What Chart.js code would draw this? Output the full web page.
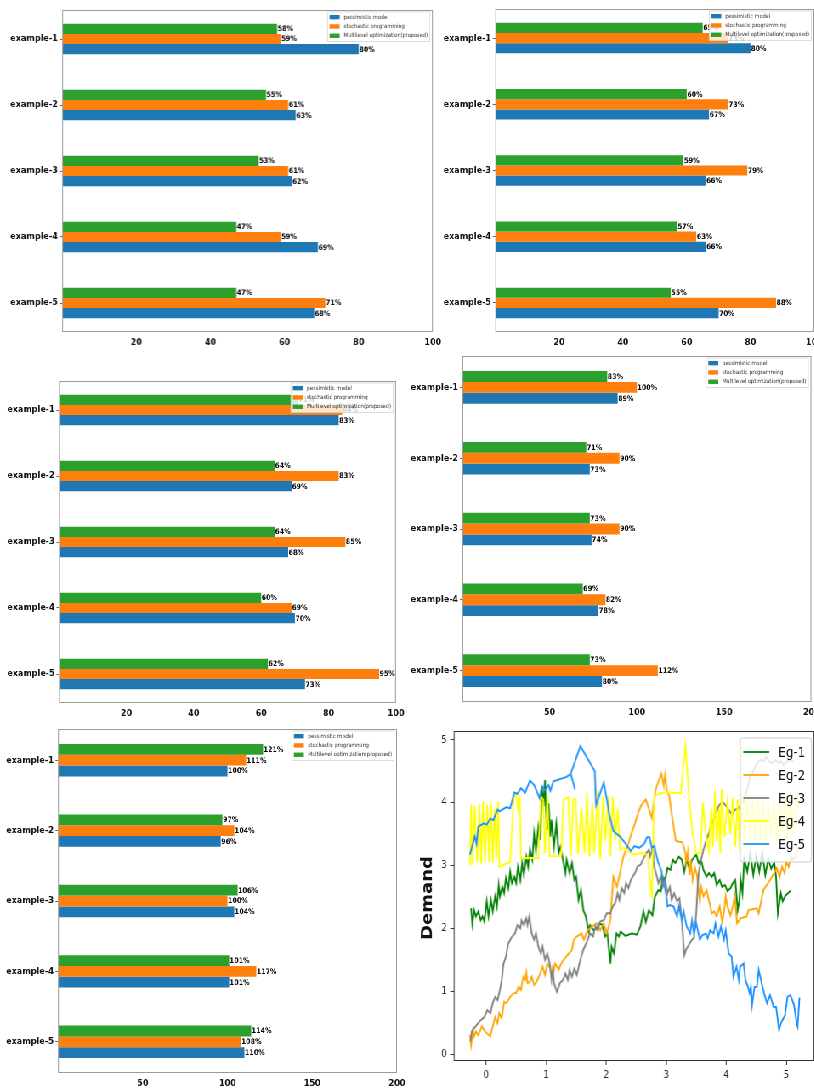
<!DOCTYPE html>
<html>
<head>
<meta charset="utf-8">
<title>Model comparison and demand</title>
<script src="https://cdn.jsdelivr.net/npm/chart.js@4.4.1/dist/chart.umd.min.js"></script>
<style>
html,body{margin:0;padding:0;background:#fff;overflow:hidden;}
#fig{position:absolute;left:0;top:0;width:1000px;height:1088px;transform-origin:0 0;}
.panel{position:absolute;}
</style>
</head>
<body>
<div id="fig">
  <div class="panel" id="p-bar1"><canvas id="bar1"></canvas></div>
  <div class="panel" id="p-bar2"><canvas id="bar2"></canvas></div>
  <div class="panel" id="p-bar3"><canvas id="bar3"></canvas></div>
  <div class="panel" id="p-bar4"><canvas id="bar4"></canvas></div>
  <div class="panel" id="p-bar5"><canvas id="bar5"></canvas></div>
  <div class="panel" id="p-demand"><canvas id="demand"></canvas></div>
</div>
<script>
// ---- data ----
const examples = ['example-1', 'example-2', 'example-3', 'example-4', 'example-5'];
const seriesNames = ['pessimistic model', 'stochastic programming', 'Multilevel optimization(proposed)'];

const pessimistic1 = [80, 63, 62, 69, 68];
const stochastic1  = [59, 61, 61, 59, 71];
const multilevel1  = [58, 55, 53, 47, 47];

const pessimistic2 = [80, 67, 66, 66, 70];
const stochastic2  = [73, 73, 79, 63, 88];
const multilevel2  = [65, 60, 59, 57, 55];

const pessimistic3 = [83, 69, 68, 70, 73];
const stochastic3  = [84, 83, 85, 69, 95];
const multilevel3  = [71, 64, 64, 60, 62];

const pessimistic4 = [89, 73, 74, 78, 80];
const stochastic4  = [100, 90, 90, 82, 112];
const multilevel4  = [83, 71, 73, 69, 73];

const pessimistic5 = [100, 96, 104, 101, 110];
const stochastic5  = [111, 104, 100, 117, 108];
const multilevel5  = [121, 97, 106, 101, 114];

const egNames = ['Eg-1', 'Eg-2', 'Eg-3', 'Eg-4', 'Eg-5'];

const eg1 = [[-0.25,2.32],[-0.23,2.07],[-0.2,2.29],[-0.17,2.19],[-0.13,2.27],[-0.09,2.13],[-0.06,2.19],[-0.03,2.11],[0.01,2.43],[0.04,2.19],[0.08,2.45],[0.11,2.27],[0.15,2.51],[0.18,2.35],[0.21,2.69],[0.23,2.51],[0.27,2.66],[0.3,2.56],[0.33,2.8],[0.37,2.64],[0.4,2.9],[0.43,2.72],[0.47,2.82],[0.5,2.72],[0.53,2.98],[0.57,2.77],[0.6,3.04],[0.63,2.85],[0.67,3.14],[0.7,2.98],[0.73,3.25],[0.77,3.09],[0.8,3.51],[0.83,3.25],[0.87,3.62],[0.9,3.41],[0.93,4.26],[0.96,3.94],[0.98,4.36],[1.01,3.57],[1.04,3.99],[1.07,3.46],[1.09,3.73],[1.13,3.3],[1.17,3.67],[1.21,3.2],[1.24,3.3],[1.28,3.09],[1.32,2.88],[1.34,3.09],[1.39,2.88],[1.43,3.04],[1.47,2.77],[1.5,2.82],[1.54,2.45],[1.58,2.61],[1.62,2.29],[1.66,2.19],[1.71,1.95],[1.73,2.05],[1.79,1.97],[1.84,2.0],[1.89,2.08],[1.94,2.05],[1.98,1.87],[2.02,1.92],[2.07,1.44],[2.09,1.71],[2.13,1.6],[2.17,1.92],[2.21,1.87],[2.24,1.95],[2.32,1.88],[2.43,1.92],[2.51,1.9],[2.57,2.03],[2.62,2.27],[2.66,2.1],[2.71,2.29],[2.77,2.21],[2.81,2.5],[2.87,2.61],[2.91,2.59],[2.94,2.82],[2.98,2.77],[3.02,2.96],[3.07,2.93],[3.11,3.09],[3.15,3.04],[3.21,3.14],[3.26,3.09],[3.3,2.9],[3.34,3.09],[3.39,2.93],[3.43,3.09],[3.47,3.14],[3.5,3.17],[3.54,3.04],[3.58,3.09],[3.62,2.93],[3.67,2.82],[3.71,2.88],[3.76,2.82],[3.8,2.88],[3.84,2.69],[3.89,2.77],[3.93,2.66],[3.98,2.69],[4.02,2.59],[4.07,2.64],[4.11,2.72],[4.15,2.77],[4.19,2.29],[4.22,2.45],[4.24,2.77],[4.27,2.56],[4.3,3.1],[4.35,2.9],[4.4,3.2],[4.45,2.85],[4.5,3.15],[4.55,2.9],[4.6,3.2],[4.65,2.85],[4.7,3.1],[4.75,2.95],[4.8,3.05],[4.83,2.82],[4.86,2.24],[4.91,2.56],[4.94,2.43],[4.98,2.51],[5.07,2.6]];

const eg2 = [[-0.27,0.3],[-0.25,0.14],[-0.22,0.38],[-0.2,0.28],[-0.17,0.36],[-0.13,0.3],[-0.07,0.44],[-0.02,0.36],[0.07,0.28],[0.11,0.44],[0.15,0.59],[0.19,0.49],[0.22,0.65],[0.26,0.57],[0.3,0.83],[0.34,0.81],[0.4,0.91],[0.46,0.97],[0.5,0.97],[0.54,1.07],[0.58,1.02],[0.62,1.23],[0.65,1.18],[0.67,1.3],[0.69,1.13],[0.73,1.15],[0.76,1.23],[0.8,1.1],[0.84,1.15],[0.9,1.28],[0.94,1.39],[0.98,1.26],[1.02,1.44],[1.07,1.36],[1.11,1.23],[1.15,1.44],[1.21,1.34],[1.24,1.42],[1.29,1.5],[1.36,1.58],[1.43,1.66],[1.46,1.82],[1.51,1.87],[1.59,1.92],[1.63,1.82],[1.69,1.97],[1.76,2.03],[1.84,2.08],[1.9,1.97],[1.96,2.08],[2.01,1.92],[2.07,2.13],[2.12,2.82],[2.18,2.66],[2.23,2.88],[2.28,3.12],[2.32,3.22],[2.37,3.35],[2.43,3.54],[2.48,3.67],[2.54,3.86],[2.59,3.97],[2.66,4.05],[2.76,3.76],[2.82,4.19],[2.87,4.34],[2.92,4.46],[2.96,4.27],[2.98,4.44],[3.01,4.2],[3.05,4.1],[3.1,3.76],[3.16,3.39],[3.27,3.37],[3.32,3.2],[3.33,3.04],[3.36,3.22],[3.39,2.85],[3.41,3.09],[3.44,2.77],[3.48,2.96],[3.51,2.85],[3.56,2.43],[3.58,2.66],[3.62,2.51],[3.67,2.61],[3.71,2.45],[3.76,2.24],[3.8,2.27],[3.84,2.19],[3.89,2.35],[3.93,2.11],[3.96,2.24],[3.99,2.51],[4.02,2.35],[4.07,2.21],[4.11,2.35],[4.14,2.51],[4.18,2.08],[4.24,2.16],[4.34,2.19],[4.37,2.29],[4.51,2.32],[4.54,2.24],[4.62,2.61],[4.73,2.77],[4.8,2.88],[4.84,2.96],[4.89,2.82],[4.93,2.98],[4.97,2.88],[5.0,3.06],[5.04,2.98],[5.08,3.14],[5.12,3.09],[5.17,3.22],[5.21,3.3]];

const eg3 = [[-0.26,0.2],[-0.24,0.36],[-0.2,0.41],[-0.16,0.46],[-0.09,0.54],[-0.03,0.59],[0.02,0.7],[0.07,0.65],[0.11,0.81],[0.15,0.91],[0.19,0.86],[0.23,1.02],[0.26,1.18],[0.29,1.44],[0.33,1.55],[0.37,1.76],[0.43,1.87],[0.48,1.92],[0.52,2.05],[0.57,2.0],[0.59,2.13],[0.63,2.05],[0.67,2.16],[0.69,2.05],[0.72,2.19],[0.76,1.92],[0.8,1.82],[0.83,1.92],[0.87,1.71],[0.91,1.6],[0.94,1.71],[0.98,1.5],[1.02,1.6],[1.06,1.44],[1.09,1.18],[1.11,1.34],[1.13,1.13],[1.18,0.99],[1.23,1.13],[1.28,1.18],[1.32,1.28],[1.36,1.18],[1.39,1.34],[1.43,1.23],[1.47,1.36],[1.51,1.26],[1.57,1.5],[1.62,1.66],[1.68,1.79],[1.73,1.92],[1.78,1.87],[1.82,2.03],[1.86,1.97],[1.9,2.11],[1.96,2.13],[2.01,2.24],[2.07,2.24],[2.11,2.35],[2.15,2.4],[2.19,2.56],[2.22,2.45],[2.26,2.64],[2.3,2.56],[2.33,2.72],[2.37,2.64],[2.41,2.77],[2.44,2.82],[2.48,2.88],[2.52,2.98],[2.57,3.01],[2.61,3.09],[2.67,3.2],[2.71,3.25],[2.73,3.14],[2.78,3.3],[2.8,2.98],[2.83,2.88],[2.87,2.72],[2.91,2.82],[2.94,2.66],[2.98,2.77],[3.02,2.56],[3.06,2.66],[3.09,2.45],[3.13,2.56],[3.18,2.43],[3.22,2.48],[3.26,2.13],[3.3,1.57],[3.33,1.66],[3.39,1.76],[3.43,1.82],[3.46,1.84],[3.5,2.24],[3.52,2.61],[3.54,2.88],[3.58,3.09],[3.62,3.25],[3.67,3.41],[3.71,3.51],[3.74,3.62],[3.79,3.73],[3.83,3.83],[3.87,3.94],[3.93,4.02],[3.98,3.97],[4.04,3.89],[4.09,3.81],[4.15,3.89],[4.21,3.91],[4.29,4.02],[4.34,4.18],[4.4,4.42],[4.46,4.52],[4.51,4.63],[4.57,4.68],[4.62,4.66],[4.67,4.73],[4.71,4.66],[4.76,4.63],[4.82,4.68],[4.87,4.63],[4.91,4.66],[4.96,4.6],[5.02,4.66],[5.12,4.66]];

const eg4 = [[-0.27,3.0],[-0.25,3.97],[-0.23,3.02],[-0.19,3.95],[-0.15,3.05],[-0.11,3.98],[-0.08,3.03],[-0.05,4.02],[-0.02,3.05],[0.02,3.97],[0.05,3.06],[0.08,4.0],[0.11,3.04],[0.14,3.9],[0.17,3.1],[0.2,4.02],[0.22,2.98],[0.4,3.06],[0.46,4.1],[0.5,4.12],[0.53,3.9],[0.56,4.12],[0.58,3.12],[0.87,3.12],[0.91,4.1],[0.95,4.05],[0.98,3.2],[1.02,4.1],[1.06,3.15],[1.25,3.15],[1.29,4.05],[1.37,4.08],[1.41,3.15],[1.45,4.05],[1.49,4.06],[1.53,3.18],[1.59,3.9],[1.64,3.2],[1.68,4.16],[1.72,3.15],[1.77,4.0],[1.8,3.2],[1.86,4.21],[1.9,3.1],[1.95,4.1],[1.99,3.4],[2.04,4.1],[2.07,3.15],[2.11,4.1],[2.15,3.4],[2.19,3.9],[2.23,3.25],[2.29,3.28],[2.44,3.18],[2.63,3.2],[2.69,3.15],[2.76,2.48],[2.8,4.1],[2.9,4.15],[3.0,4.17],[3.24,4.15],[3.32,4.9],[3.38,4.1],[3.44,3.5],[3.5,3.2],[3.57,3.2],[3.61,4.0],[3.66,3.5],[3.71,3.22],[3.75,3.92],[3.78,3.3],[3.81,4.19],[3.84,3.39],[3.88,3.9],[3.9,3.2],[3.92,4.21],[3.97,3.45],[4.02,4.03],[4.07,3.5],[4.11,4.08],[4.15,3.3],[4.19,4.05],[4.23,3.2],[4.26,4.12],[4.3,3.3],[4.35,4.0],[4.4,3.4],[4.44,4.1],[4.48,3.35],[4.53,4.05],[4.57,3.4],[4.62,4.1],[4.66,3.3],[4.7,4.0],[4.75,3.45],[4.8,4.1],[4.84,3.35],[4.89,4.05],[4.93,3.5],[4.98,4.1],[5.02,3.4],[5.07,4.12],[5.12,3.5],[5.17,4.15],[5.2,3.9]];

const eg5 = [[-0.27,3.17],[-0.19,3.46],[-0.16,3.35],[-0.13,3.62],[-0.04,3.67],[0.01,3.65],[0.07,3.75],[0.12,3.72],[0.19,3.89],[0.22,3.86],[0.34,3.93],[0.4,3.91],[0.47,4.16],[0.52,4.14],[0.58,4.23],[0.65,4.16],[0.73,4.35],[0.8,4.28],[0.89,4.07],[0.93,4.26],[0.98,4.2],[1.04,4.28],[1.07,4.19],[1.12,4.34],[1.34,4.41],[1.41,4.46],[1.48,4.21],[1.41,4.46],[1.57,4.9],[1.81,4.5],[1.83,3.96],[1.96,4.32],[2.02,4.0],[2.05,3.82],[2.12,3.55],[2.24,3.45],[2.36,3.3],[2.41,3.23],[2.47,3.31],[2.55,3.28],[2.63,3.34],[2.68,3.45],[2.72,3.45],[2.76,3.28],[2.8,3.31],[2.86,3.07],[2.92,2.91],[3.0,2.54],[3.02,2.35],[3.06,2.37],[3.12,2.35],[3.18,2.19],[3.21,2.35],[3.26,2.13],[3.29,2.27],[3.34,2.03],[3.4,1.92],[3.43,2.13],[3.46,1.92],[3.5,2.08],[3.56,1.82],[3.6,1.89],[3.66,1.92],[3.69,1.84],[3.73,1.97],[3.79,1.92],[3.82,2.08],[3.87,1.87],[3.91,2.03],[3.96,1.82],[3.99,1.97],[4.04,1.6],[4.09,1.55],[4.12,1.23],[4.17,1.39],[4.21,1.18],[4.23,1.39],[4.29,1.44],[4.32,1.18],[4.36,1.07],[4.39,0.97],[4.41,1.07],[4.43,0.78],[4.47,1.07],[4.51,1.07],[4.54,1.34],[4.59,1.13],[4.63,0.97],[4.68,0.81],[4.73,0.94],[4.79,0.75],[4.83,0.75],[4.88,0.38],[4.91,0.49],[4.98,0.62],[5.02,0.91],[5.07,0.94],[5.13,0.78],[5.17,0.51],[5.19,0.44],[5.22,0.9]];

// ---- look ----
const K = 0.85;   // the whole figure is drawn narrower than tall
const FONT = 'DejaVu Sans';
const seriesColors = ['#1f77b4', '#ff7f0e', '#2ca02c'];
const egColors = ['#008000', '#ffa500', '#808080', '#ffff00', '#1e90ff'];
const BAR_INSET = 4;  // category band runs a little past the drawn frame, top and bottom

Chart.defaults.font.family = FONT;
document.getElementById('fig').style.transform = 'scaleX(' + K + ')';

// box = canvas [left, top, width, height], axes = plot frame [left, top, right, bottom], both in page px
const barPanels = [
  { id: 'bar1', box: [0, 0, 445, 352],     axes: [62, 10, 432, 332],   max: 100, step: 20, values: [pessimistic1, stochastic1, multilevel1] },
  { id: 'bar2', box: [440, 0, 400, 352],   axes: [495, 9, 814, 332],   max: 100, step: 20, values: [pessimistic2, stochastic2, multilevel2] },
  { id: 'bar3', box: [0, 368, 410, 354],   axes: [59, 381, 396, 703],  max: 100, step: 20, values: [pessimistic3, stochastic3, multilevel3] },
  { id: 'bar4', box: [400, 350, 430, 370], axes: [462, 356, 811, 702], max: 200, step: 50, values: [pessimistic4, stochastic4, multilevel4] },
  { id: 'bar5', box: [0, 720, 410, 368],   axes: [58, 729, 397, 1073], max: 200, step: 50, values: [pessimistic5, stochastic5, multilevel5] }
];

function place(id, box) {
  const el = document.getElementById(id).parentNode;
  el.style.left = box[0] / K + 'px';
  el.style.top = box[1] + 'px';
  el.style.width = box[2] / K + 'px';
  el.style.height = box[3] + 'px';
}

// fixed axis sizes so the plot frame lands where it should
function fitX(h) { return s => { s.height = h; s.paddingLeft = 0; s.paddingRight = 0; }; }
function fitY(w) { return s => { s.width = w; s.paddingTop = 0; s.paddingBottom = 0; }; }

function frame(color, inset) {
  return {
    id: 'frame',
    afterDatasetsDraw(chart) {
      const { ctx, chartArea: a } = chart;
      ctx.save();
      ctx.strokeStyle = color;
      ctx.lineWidth = 1;
      ctx.strokeRect(a.left + 0.5, a.top + inset + 0.5, a.right - a.left - 1, a.bottom - a.top - 2 * inset - 1);
      ctx.restore();
    }
  };
}

const valueLabels = {
  id: 'valueLabels',
  afterDatasetsDraw(chart) {
    const { ctx } = chart;
    ctx.save();
    ctx.font = 'bold 7.6px "' + FONT + '"';
    ctx.fillStyle = '#000';
    ctx.textAlign = 'left';
    ctx.textBaseline = 'middle';
    chart.data.datasets.forEach((ds, i) => {
      chart.getDatasetMeta(i).data.forEach((bar, j) => {
        ctx.fillText(ds.data[j] + '%', bar.x + 0.5, bar.y + 0.5);
      });
    });
    ctx.restore();
  }
};

// small framed legend in the upper right corner of each bar plot
const barLegend = {
  id: 'barLegend',
  afterDraw(chart) {
    const { ctx, chartArea: a } = chart;
    ctx.save();
    ctx.font = '5.9px "' + FONT + '"';
    const tw = Math.max(...seriesNames.map(n => ctx.measureText(n).width));
    const pad = 2 / K, patchW = 10 / K, gap = 4 / K, rowH = 9.3;
    const w = pad + patchW + gap + tw + pad, h = rowH * 3 + 1.5;
    const x0 = a.right - 3 / K - w, y0 = a.top + BAR_INSET + 2;
    ctx.fillStyle = 'rgba(255,255,255,0.8)';
    ctx.fillRect(x0, y0, w, h);
    ctx.strokeStyle = '#d4d4d4';
    ctx.lineWidth = 0.8;
    ctx.strokeRect(x0, y0, w, h);
    ctx.textBaseline = 'middle';
    seriesNames.forEach((n, i) => {
      const yc = y0 + 0.5 + rowH * (i + 0.5);
      ctx.fillStyle = seriesColors[i];
      ctx.fillRect(x0 + pad, yc - 2.2, patchW, 4.4);
      ctx.fillStyle = '#333';
      ctx.fillText(n, x0 + pad + patchW + gap, yc);
    });
    ctx.restore();
  }
};

function barChart(p) {
  const [cx, cy, cw, ch] = p.box, [l, t, r, b] = p.axes;
  place(p.id, p.box);
  const tickFont = { family: FONT, size: 9.5, weight: 'bold' };
  new Chart(document.getElementById(p.id), {
    type: 'bar',
    data: {
      labels: examples,
      // green on top of each group, blue at the bottom
      datasets: [2, 1, 0].map(i => ({
        label: seriesNames[i],
        data: p.values[i],
        backgroundColor: seriesColors[i],
        categoryPercentage: 0.46,
        barPercentage: 1
      }))
    },
    options: {
      indexAxis: 'y',
      animation: false,
      responsive: true,
      maintainAspectRatio: false,
      layout: { padding: { left: 0, top: t - cy - BAR_INSET, right: (cx + cw - r) / K, bottom: 0 } },
      plugins: { legend: { display: false }, tooltip: { enabled: false } },
      scales: {
        x: {
          min: 0, max: p.max,
          ticks: { stepSize: p.step, color: '#111', padding: 1, font: tickFont, callback: v => v === 0 ? '' : v },
          grid: { drawOnChartArea: false, drawTicks: false },
          border: { display: false },
          afterFit: fitX(cy + ch - b - BAR_INSET)
        },
        y: {
          ticks: { color: '#111', padding: 2, font: tickFont },
          grid: { drawOnChartArea: false, tickLength: 3, color: '#666', offset: false },
          border: { display: false },
          afterFit: fitY((l - cx) / K)
        }
      }
    },
    plugins: [frame('#9a9a9a', BAR_INSET), valueLabels, barLegend]
  });
}

barPanels.forEach(barChart);

// ---- demand lines ----
const demandBox = [405, 720, 420, 368];
const demandAxes = [454, 731, 814, 1061];

const demandLegend = {
  id: 'demandLegend',
  afterDraw(chart) {
    const { ctx, chartArea: a } = chart;
    const left = a.right - 74 / K, right = a.right - 3 / K;
    const top = a.top + 7, bottom = a.top + 131;
    ctx.save();
    ctx.beginPath();
    ctx.roundRect(left, top, right - left, bottom - top, 3);
    ctx.fillStyle = 'rgba(255,255,255,0.8)';
    ctx.fill();
    ctx.strokeStyle = '#cccccc';
    ctx.lineWidth = 1;
    ctx.stroke();
    ctx.font = '14px "' + FONT + '"';
    ctx.textBaseline = 'middle';
    egNames.forEach((n, i) => {
      const y = top + 14 + i * 23;
      ctx.strokeStyle = egColors[i];
      ctx.lineWidth = 1.8;
      ctx.beginPath();
      ctx.moveTo(left + 3 / K, y);
      ctx.lineTo(left + 29 / K, y);
      ctx.stroke();
      ctx.fillStyle = '#111';
      ctx.fillText(n, left + 38 / K, y + 1);
    });
    ctx.restore();
  }
};

const demandTitle = {
  id: 'demandTitle',
  afterDraw(chart) {
    const { ctx, chartArea: a } = chart;
    ctx.save();
    ctx.translate(a.left - 26 / K, (a.top + a.bottom) / 2 + 2);
    ctx.rotate(-Math.PI / 2);
    ctx.font = 'bold 18px "' + FONT + '"';
    ctx.fillStyle = '#111';
    ctx.textAlign = 'center';
    ctx.textBaseline = 'middle';
    ctx.fillText('Demand', 0, 0);
    ctx.restore();
  }
};

(function demandChart() {
  const [cx, cy, cw, ch] = demandBox, [l, t, r, b] = demandAxes;
  place('demand', demandBox);
  const tickFont = { family: FONT, size: 10.5 };
  new Chart(document.getElementById('demand'), {
    type: 'scatter',
    data: {
      datasets: [eg1, eg2, eg3, eg4, eg5].map((pts, i) => ({
        label: egNames[i],
        data: pts.map(([x, y]) => ({ x, y })),
        borderColor: egColors[i],
        borderWidth: 1.9,
        pointRadius: 0,
        showLine: true,
        order: 5 - i
      }))
    },
    options: {
      animation: false,
      responsive: true,
      maintainAspectRatio: false,
      layout: { padding: { left: 0, top: t - cy, right: (cx + cw - r) / K, bottom: 0 } },
      plugins: { legend: { display: false }, tooltip: { enabled: false } },
      scales: {
        x: {
          type: 'linear', min: -0.54, max: 5.47,
          ticks: { stepSize: 1, includeBounds: false, color: '#222', padding: 4, font: tickFont },
          grid: { drawOnChartArea: false, tickLength: 4, color: '#333' },
          border: { display: false },
          afterFit: fitX(cy + ch - b)
        },
        y: {
          min: -0.11, max: 5.14,
          ticks: { stepSize: 1, includeBounds: false, color: '#222', padding: 4, font: tickFont },
          grid: { drawOnChartArea: false, tickLength: 4, color: '#333' },
          border: { display: false },
          afterFit: fitY((l - cx) / K)
        }
      }
    },
    plugins: [frame('#333', 0), demandLegend, demandTitle]
  });
})();
</script>
</body>
</html>
